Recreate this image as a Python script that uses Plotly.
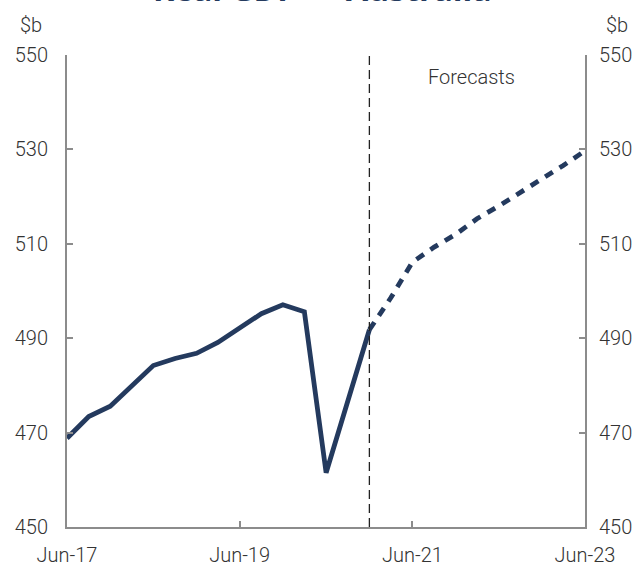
import plotly.graph_objects as go

quarters = ["2017-06-01","2017-09-01","2017-12-01","2018-03-01","2018-06-01","2018-09-01",
            "2018-12-01","2019-03-01","2019-06-01","2019-09-01","2019-12-01","2020-03-01",
            "2020-06-01","2020-09-01","2020-12-01"]
actual = [468.8, 473.4, 475.6, 479.7, 484.2, 485.7, 486.8, 489.1, 492.2, 495.2, 497.1, 495.6,
          461.5, 476.8, 491.8]

f_quarters = ["2020-12-01","2021-03-01","2021-06-01","2021-09-01","2021-12-01","2022-03-01",
              "2022-06-01","2022-09-01","2022-12-01","2023-03-01","2023-06-01"]
forecast = [491.8, 498.5, 506.1, 509.3, 512.0, 515.3, 518.0, 520.8, 523.6, 526.6, 529.7]

tick_vals = ["2017-06-01","2019-06-01","2021-06-01","2023-06-01"]
tick_text = ["Jun-17","Jun-19","Jun-21","Jun-23"]
y_ticks = [450, 470, 490, 510, 530, 550]
forecast_start = "2020-12-01"

navy = "#243a5e"
font_family = "Roboto, Liberation Sans, Arial, sans-serif"
tick_font = dict(family=font_family, size=20, color="#333333", weight=300)
axis_grey = "#8c8c8c"

fig = go.Figure()
fig.add_trace(go.Scatter(x=quarters, y=actual, mode="lines", yaxis="y",
                         line=dict(color=navy, width=4.8), showlegend=False))
fig.add_trace(go.Scatter(x=f_quarters, y=forecast, mode="lines", yaxis="y2",
                         line=dict(color=navy, width=4.8, dash="9px,8px"), showlegend=False))

fig.add_shape(type="line", xref="x", yref="paper", x0=forecast_start, x1=forecast_start,
              y0=0, y1=1, line=dict(color="#222222", width=1.3, dash="9px,5px"))

common_y = dict(range=[450, 550], tickvals=y_ticks, showgrid=False, zeroline=False,
                showline=True, linecolor=axis_grey, linewidth=2, ticks="inside",
                ticklen=6, tickcolor=axis_grey, tickwidth=1.5, tickfont=tick_font,
                automargin=False)

fig.update_layout(
    width=641, height=565,
    margin=dict(l=67, r=56, t=55, b=38),
    plot_bgcolor="white", paper_bgcolor="white",
    xaxis=dict(type="date", range=["2017-06-01", "2023-06-01"], tickvals=tick_vals,
               ticktext=tick_text, showgrid=False, zeroline=False, showline=True,
               linecolor=axis_grey, linewidth=2, ticks="inside", ticklen=6,
               tickcolor=axis_grey, tickwidth=1.5, tickfont=tick_font,
               ticklabelstandoff=9, automargin=False),
    yaxis=dict(**common_y, side="left", ticklabelstandoff=13),
    yaxis2=dict(**common_y, overlaying="y", side="right", ticklabelstandoff=8),
)

fig.add_annotation(text="$b", xref="paper", yref="paper", x=-0.095, y=1.063,
                   xanchor="left", yanchor="middle", showarrow=False, font=tick_font)
fig.add_annotation(text="$b", xref="paper", yref="paper", x=1.087, y=1.063,
                   xanchor="right", yanchor="middle", showarrow=False, font=tick_font)
fig.add_annotation(text="Forecasts", xref="paper", yref="paper", x=0.781, y=0.953,
                   xanchor="center", yanchor="middle", showarrow=False, font=tick_font)
fig.add_annotation(text="<b>Real GDP — Australia</b>", xref="paper", yref="paper",
                   x=0.494, y=1.092, xanchor="center", yanchor="bottom", showarrow=False,
                   font=dict(family="Open Sans, Roboto, sans-serif", size=32, color=navy))

fig.write_html("out.html", config={"displayModeBar": False},
               post_script="document.body.style.margin='0';")
